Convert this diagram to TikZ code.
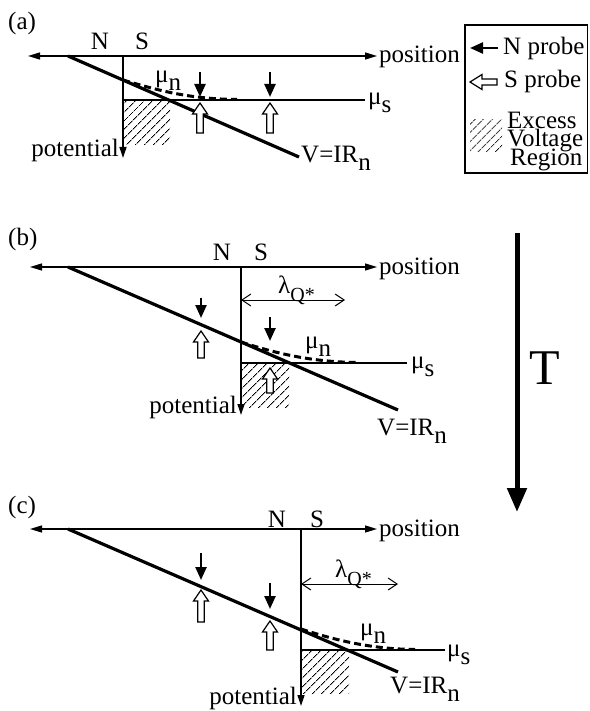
\documentclass[tikz,border=0pt]{standalone}
\usepackage{fontspec}
\setmainfont{Liberation Serif}
\usetikzlibrary{arrows.meta,patterns.meta}
\newcommand\sbs[1]{\raisebox{-8pt}{#1}}
\newcommand\lamq{λ\raisebox{-8pt}{\fontsize{20}{20}\selectfont Q*}}
\newcommand\nprb[3]{\draw[nprobe] (#1,#2) -- (#1,#3);}
\newcommand\sprb[3]{\draw[sprobe] (#1,#2) -- ++(7.5,11) -- ++(-4.3,0) -- (#1+3.2,#3) -- (#1-3.2,#3) -- (#1-3.2,#2+11) -- ++(-4.3,0) -- cycle;}
\begin{document}
\begin{tikzpicture}[x=1pt,y=-1pt,
  every node/.style={font=\fontsize{25}{25}\selectfont, inner sep=0pt},
  axis/.style={line width=1.3pt},
  axtip/.style={-{Triangle[length=11pt,width=7pt]}},
  bothtip/.style={{Triangle[length=12pt,width=7pt]}-{Triangle[length=12pt,width=7pt]}},
  ohm/.style={line width=3.2pt},
  mun/.style={line width=3pt, dash pattern=on 7pt off 4pt},
  nprobe/.style={line width=2.4pt, -{Triangle[length=13pt,width=11pt]}},
  sprobe/.style={line width=1.2pt, fill=white, line join=miter},
  hatch/.style={pattern={Lines[angle=45,distance=6.5pt,line width=0.9pt]}},
  lam/.style={line width=1pt, {Straight Barb[length=9pt,width=12pt]}-{Straight Barb[length=9pt,width=12pt]}}
]
\useasboundingbox (0,0) rectangle (589,711);

% ---------- panel (a)
\fill[hatch] (123,100) rectangle (170,145);
\coordinate (aL) at (28,56); \coordinate (aR) at (377,56);
\coordinate (aO) at (123,56); \coordinate (aP) at (123,158);
\draw[axis,bothtip] (aL) -- (aR);
\draw[axis,axtip] (aO) -- (aP);
\coordinate (aS1) at (123,100); \coordinate (aS2) at (365,100);
\draw[axis] (aS1) -- (aS2);
\coordinate (aV1) at (68,56); \coordinate (aV2) at (299,157);
\draw[ohm] (aV1) -- (aV2);
\draw[mun] (123,80) .. controls (160,91) and (190,99) .. (237,99.5);
\nprb{200}{72}{97} \nprb{270}{72}{97}
\sprb{200}{103}{133} \sprb{270}{103}{133}
\node[anchor=base west] (la) at (8,30) {(a)};
\node[anchor=base] (aN) at (100,50) {N};
\node[anchor=base] (aSS) at (142,50) {S};
\node[anchor=base west] (apos) at (379,63) {position};
\node[anchor=base west] (amun) at (155,83) {μ\sbs{n}};
\node[anchor=base west] (amus) at (368,105) {μ\sbs{s}};
\node[anchor=base east] (apot) at (119,157) {potential};
\node[anchor=base west] (aV) at (301,163) {V=IR\sbs{n}};

% ---------- legend
\draw[line width=1.2pt] (465,25) rectangle (587.5,173);
\coordinate (gN1) at (498,48); \coordinate (gN2) at (470,48);
\draw[nprobe] (gN1) -- (gN2);
\draw[sprobe] (470,82) -- (482,74.5) -- (482,79) -- (497,79) -- (497,85) -- (482,85) -- (482,89.5) -- cycle;
\fill[hatch] (470,120) rectangle (502,152);
\node[anchor=base west] (gNt) at (503,55) {N probe};
\node[anchor=base west] (gSt) at (504,88) {S probe};
\node[anchor=base west] (gE) at (507,129) {Excess};
\node[anchor=base west] (gVo) at (507,147) {Voltage};
\node[anchor=base west] (gR) at (510,166) {Region};

% ---------- panel (b)
\fill[hatch] (241,363) rectangle (289,407);
\coordinate (bL) at (30,267); \coordinate (bR) at (377,267);
\coordinate (bO) at (241,267); \coordinate (bP) at (241,415);
\draw[axis,bothtip] (bL) -- (bR);
\draw[axis,axtip] (bO) -- (bP);
\coordinate (bS1) at (241,363); \coordinate (bS2) at (407,363);
\draw[axis] (bS1) -- (bS2);
\coordinate (bV1) at (68,267); \coordinate (bV2) at (398,410);
\draw[ohm] (bV1) -- (bV2);
\draw[mun] (241,342) .. controls (275,353) and (310,362) .. (358,362.5);
\coordinate (bl1) at (241,300); \coordinate (bl2) at (345,300);
\draw[lam] (bl1) -- (bl2);
\nprb{201}{298}{318} \sprb{201}{331}{358}
\nprb{270}{317}{341} \sprb{270}{368}{393}
\node[anchor=base west] (lb) at (8,245) {(b)};
\node[anchor=base] (bN) at (222,260) {N};
\node[anchor=base] (bSS) at (261,260) {S};
\node[anchor=base west] (bpos) at (379,274) {position};
\node[anchor=base west] (blam) at (278,293) {\lamq};
\node[anchor=base west] (bmun) at (305,348) {μ\sbs{n}};
\node[anchor=base west] (bmus) at (411,368) {μ\sbs{s}};
\node[anchor=base east] (bpot) at (237,413) {potential};
\node[anchor=base west] (bV) at (377,435) {V=IR\sbs{n}};

% ---------- T arrow
\coordinate (T1) at (517,233); \coordinate (T2) at (517,512);
\draw[line width=5pt,-{Triangle[length=24pt,width=19pt]}] (T1) -- (T2);
\node[font=\fontsize{50}{50}\selectfont] (Tl) at (545,368) {T};

% ---------- panel (c)
\fill[hatch] (301,650) rectangle (349,693);
\coordinate (cL) at (30,529); \coordinate (cR) at (377,529);
\coordinate (cO) at (301,529); \coordinate (cP) at (301,706);
\draw[axis,bothtip] (cL) -- (cR);
\draw[axis,axtip] (cO) -- (cP);
\coordinate (cS1) at (301,650); \coordinate (cS2) at (445,650);
\draw[axis] (cS1) -- (cS2);
\coordinate (cV1) at (68,529); \coordinate (cV2) at (398,672);
\draw[ohm] (cV1) -- (cV2);
\draw[mun] (301,629) .. controls (335,640) and (370,649) .. (415,649.5);
\coordinate (cl1) at (301,584); \coordinate (cl2) at (398,584);
\draw[lam] (cl1) -- (cl2);
\nprb{201}{553}{580} \sprb{201}{590}{622}
\nprb{270}{583}{609} \sprb{270}{621}{650}
\node[anchor=base west] (lc) at (8,513) {(c)};
\node[anchor=base] (cN) at (277,527) {N};
\node[anchor=base] (cSS) at (317,527) {S};
\node[anchor=base west] (cpos) at (379,536) {position};
\node[anchor=base west] (clam) at (335,577) {\lamq};
\node[anchor=base west] (cmun) at (360,635) {μ\sbs{n}};
\node[anchor=base west] (cmus) at (447,656) {μ\sbs{s}};
\node[anchor=base east] (cpot) at (297,704) {potential};
\node[anchor=base west] (cV) at (390,693) {V=IR\sbs{n}};
\end{tikzpicture}
\end{document}
